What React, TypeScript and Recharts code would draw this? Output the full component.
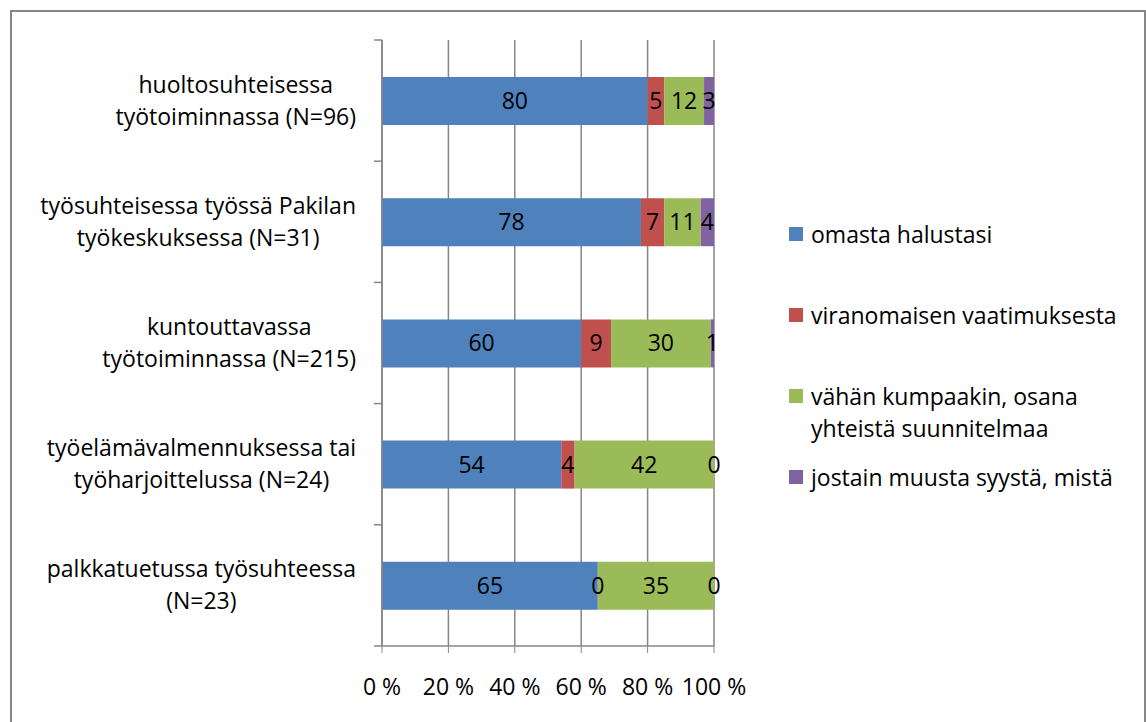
import React from 'react';
import { BarChart, Bar, XAxis, YAxis, CartesianGrid, LabelList, Legend } from 'recharts';

// ---- data ----
const categoryLines: string[][] = [
  ['huoltosuhteisessa', 'työtoiminnassa (N=96)'],
  ['työsuhteisessa työssä Pakilan', 'työkeskuksessa (N=31)'],
  ['kuntouttavassa', 'työtoiminnassa (N=215)'],
  ['työelämävalmennuksessa tai', 'työharjoittelussa (N=24)'],
  ['palkkatuetussa työsuhteessa', '(N=23)'],
];
const categories = categoryLines.map((l) => l.join(' '));
const omasta = [80, 78, 60, 54, 65];
const viranomainen = [5, 7, 9, 4, 0];
const kumpaakin = [12, 11, 30, 42, 35];
const muu = [3, 4, 1, 0, 0];
const seriesNames = [
  'omasta halustasi',
  'viranomaisen vaatimuksesta',
  'vähän kumpaakin, osana yhteistä suunnitelmaa',
  'jostain muusta syystä, mistä',
];
const seriesColors = ['#4F81BD', '#C0504D', '#9BBB59', '#8064A2'];
const xTicks = [0, 20, 40, 60, 80, 100];

const data = categories.map((name, i) => ({
  name,
  s0: omasta[i],
  s1: viranomainen[i],
  s2: kumpaakin[i],
  s3: muu[i],
}));

// ---- layout ----
const W = 1146;
const H = 722;
const M_TOP = 40;
const M_RIGHT = 432;
const Y_W = 382;
const X_H = 76;
const BAND = (H - M_TOP - X_H) / categories.length;
const LABEL_RIGHT = 356;
const FONT = "'Open Sans', sans-serif";
const FS = 23;
const GRAY = '#868686';

let ctx: CanvasRenderingContext2D | null = null;
function measure(t: string): number {
  if (!ctx) ctx = document.createElement('canvas').getContext('2d');
  if (!ctx) return t.length * FS * 0.5;
  ctx.font = `${FS}px 'Open Sans'`;
  return ctx.measureText(t).width;
}

const CatTick = (props: any) => {
  const { y, payload } = props;
  const idx = categories.indexOf(payload.value);
  const lines = idx >= 0 ? categoryLines[idx] : [String(payload.value)];
  const maxW = Math.max(...lines.map(measure));
  const cx = LABEL_RIGHT - maxW / 2;
  const n = lines.length;
  return (
    <g>
      <line x1={Y_W - 8} x2={Y_W} y1={y - BAND / 2} y2={y - BAND / 2} stroke={GRAY} strokeWidth={1.5} />
      {idx === categories.length - 1 && (
        <line x1={Y_W - 8} x2={Y_W} y1={y + BAND / 2} y2={y + BAND / 2} stroke={GRAY} strokeWidth={1.5} />
      )}
      {lines.map((ln, i) => (
        <text
          key={i}
          x={cx}
          y={y + (i - (n - 1) / 2) * 32}
          dy="0.35em"
          textAnchor="middle"
          fill="#000"
          fontSize={FS}
          fontFamily={FONT}
        >
          {ln}
        </text>
      ))}
    </g>
  );
};

const SegLabel = (props: any) => {
  const { x, y, width, height, value } = props;
  if (value === undefined || value === null) return null;
  return (
    <text
      x={Number(x) + Number(width) / 2}
      y={Number(y) + Number(height) / 2}
      dy="0.35em"
      textAnchor="middle"
      fill="#000"
      fontSize={FS}
      fontFamily={FONT}
    >
      {value}
    </text>
  );
};

const renderLegend = () => (
  <div style={{ width: 357 }}>
    {seriesNames.map((name, i) => (
      <div key={name} style={{ height: 81, display: 'flex', alignItems: 'flex-start' }}>
        <div style={{ width: 14, height: 14, background: seriesColors[i], marginTop: 9, marginRight: 8, flex: 'none' }} />
        <div style={{ width: 325, lineHeight: '32px', fontSize: FS, fontFamily: FONT, color: '#000' }}>{name}</div>
      </div>
    ))}
  </div>
);

export default function App() {
  return (
    <div style={{ position: 'absolute', left: 0, top: 0, width: W, height: H, background: '#fff', overflow: 'hidden' }}>
      <div
        style={{
          position: 'absolute',
          left: 10,
          top: 10,
          width: 1136,
          height: 730,
          border: `2px solid ${GRAY}`,
          boxSizing: 'border-box',
        }}
      />
      <BarChart
        width={W}
        height={H}
        data={data}
        layout="vertical"
        margin={{ top: M_TOP, right: M_RIGHT, bottom: 0, left: 0 }}
        barSize={48}
      >
        <CartesianGrid horizontal={false} stroke={GRAY} strokeWidth={1.5} />
        <XAxis
          type="number"
          domain={[0, 100]}
          ticks={xTicks}
          interval={0}
          tickFormatter={(v: number) => `${v} %`}
          height={X_H}
          tickSize={7}
          tickMargin={26}
          stroke={GRAY}
          tick={{ fill: '#000', fontSize: FS, fontFamily: FONT }}
          axisLine={{ stroke: GRAY, strokeWidth: 1.5 }}
        />
        <YAxis
          type="category"
          dataKey="name"
          width={Y_W}
          interval={0}
          tickLine={false}
          axisLine={{ stroke: GRAY, strokeWidth: 1.5 }}
          tick={<CatTick />}
        />
        <Legend
          layout="vertical"
          align="center"
          verticalAlign="middle"
          content={renderLegend}
          wrapperStyle={{ left: 789, top: 218, width: 357 }}
        />
        {['s0', 's1', 's2', 's3'].map((k, i) => (
          <Bar
            key={k}
            dataKey={k}
            name={seriesNames[i]}
            stackId="a"
            fill={seriesColors[i]}
            minPointSize={0.001}
            isAnimationActive={false}
          >
            <LabelList dataKey={k} content={SegLabel} />
          </Bar>
        ))}
      </BarChart>
    </div>
  );
}
